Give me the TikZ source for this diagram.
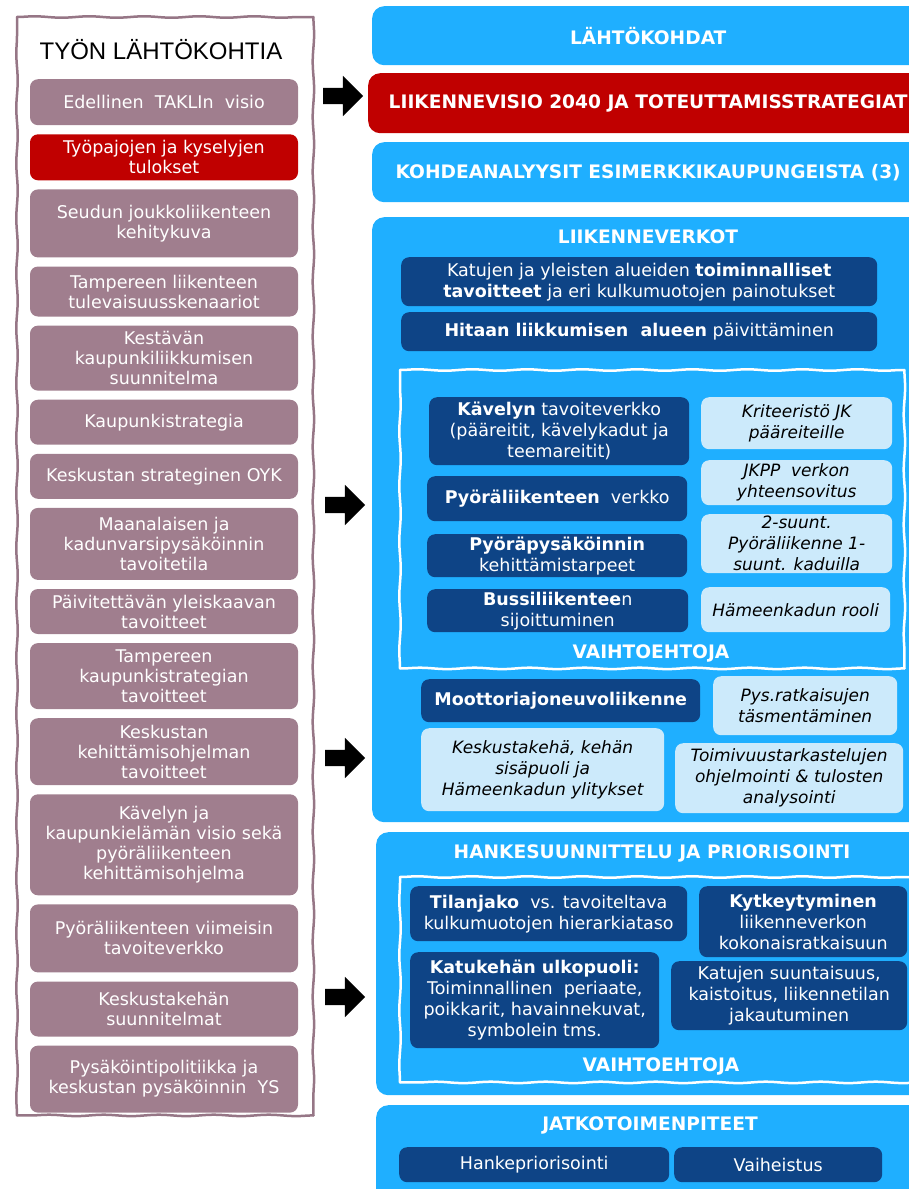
\documentclass[tikz,border=0pt]{standalone}
\usepackage{fontspec}
\setmainfont{DejaVu Sans}
\newfontfamily\titlefont{Liberation Sans}
\usepackage{tikz}
\usetikzlibrary{arrows,shapes,positioning,decorations.pathmorphing}
\usepackage{xcolor}
\definecolor{vlmauve}{RGB}{160,126,142}
\definecolor{vlframe}{RGB}{150,118,134}
\definecolor{vlred}{RGB}{192,0,0}
\definecolor{vlblue}{RGB}{31,175,255}
\definecolor{vlnavy}{RGB}{14,68,134}
\definecolor{vlpale}{RGB}{204,234,251}
\tikzstyle{source} = [rectangle, rounded corners=8pt, fill=vlmauve, text=white, minimum width=268pt, inner sep=0pt, align=center, font=\fontsize{17.5}{20}\selectfont]
\tikzstyle{phase} = [rectangle, rounded corners=12pt, fill=vlblue, text=white, anchor=north west, minimum width=552pt, font=\fontsize{18.6}{21}\selectfont\bfseries]
\tikzstyle{task} = [rectangle, rounded corners=8pt, fill=vlnavy, text=white, anchor=north west, inner sep=0pt, align=center, font=\fontsize{17.5}{21}\selectfont]
\tikzstyle{note} = [rectangle, rounded corners=8pt, fill=vlpale, text=black, anchor=north west, inner sep=0pt, align=center, font=\fontsize{17}{21}\selectfont\itshape]
\tikzstyle{heading} = [text=white, font=\fontsize{18.6}{21}\selectfont\bfseries]
\tikzstyle{wavy} = [rectangle, anchor=north west, inner sep=0pt]
\tikzstyle{wavyline} = [line width=2.5pt, line cap=round, decorate, decoration={snake, amplitude=0.7pt, segment length=55pt}]
\tikzstyle{blockarrow} = [single arrow, fill=black, minimum height=40pt, inner xsep=0pt, inner ysep=8pt, single arrow head extend=12pt]

\begin{document}
\begin{tikzpicture}[x=1pt, y=-1pt]
\path[use as bounding box, clip] (0,0) rectangle (909,1189);

% Left column: starting points
\node (frame) [wavy, minimum width=296pt, minimum height=1098pt] at (17,17) {};
\node (title) at (161,50) {\titlefont\fontsize{24}{27}\selectfont TYÖN LÄHTÖKOHTIA};

\node (s1) [source, minimum height=46pt, anchor=north] at (164,79) {Edellinen \ TAKLIn \ visio};
\node (s2) [source, minimum height=46pt, below=8.7pt of s1, fill=vlred] {Työpajojen ja kyselyjen\\tulokset};
\node (s3) [source, minimum height=68pt, below=8.7pt of s2] {Seudun joukkoliikenteen\\kehitykuva};
\node (s4) [source, minimum height=50pt, below=8.7pt of s3] {Tampereen liikenteen\\tulevaisuusskenaariot};
\node (s5) [source, minimum height=65pt, below=8.7pt of s4] {Kestävän\\kaupunkiliikkumisen\\suunnitelma};
\node (s6) [source, minimum height=45pt, below=8.7pt of s5] {Kaupunkistrategia};
\node (s7) [source, minimum height=45pt, below=8.7pt of s6] {Keskustan strateginen OYK};
\node (s8) [source, minimum height=72pt, below=8.7pt of s7] {Maanalaisen ja\\kadunvarsipysäköinnin\\tavoitetila};
\node (s9) [source, minimum height=45pt, below=8.7pt of s8] {Päivitettävän yleiskaavan\\tavoitteet};
\node (s10) [source, minimum height=66pt, below=8.7pt of s9] {Tampereen\\kaupunkistrategian\\tavoitteet};
\node (s11) [source, minimum height=67pt, below=8.7pt of s10] {Keskustan\\kehittämisohjelman\\tavoitteet};
\node (s12) [source, minimum height=101pt, below=8.7pt of s11] {Kävelyn ja\\kaupunkielämän visio sekä\\pyöräliikenteen\\kehittämisohjelma};
\node (s13) [source, minimum height=68pt, below=8.7pt of s12] {Pyöräliikenteen viimeisin\\tavoiteverkko};
\node (s14) [source, minimum height=55pt, below=8.7pt of s13] {Keskustakehän\\suunnitelmat};
\node (s15) [source, minimum height=67pt, below=8.7pt of s14] {Pysäköintipolitiikka ja\\keskustan pysäköinnin \ YS};

% Arrows
\node (a1) [blockarrow] at (339,96) {};
\node (a2) [blockarrow] at (341,505) {};
\node (a3) [blockarrow] at (341,758) {};
\node (a4) [blockarrow] at (341,997) {};

% Right column: phases
\node (p1) [phase, minimum height=59pt] at (372,6) {LÄHTÖKOHDAT};
\node (p2) [phase, minimum height=60pt, minimum width=560pt, fill=vlred] at (368,73) {LIIKENNEVISIO 2040 JA TOTEUTTAMISSTRATEGIAT};
\node (p3) [phase, minimum height=60pt] at (372,142) {KOHDEANALYYSIT ESIMERKKIKAUPUNGEISTA (3)};
\node (p4) [phase, minimum height=605pt] at (372,217) {};
\node (p5) [phase, minimum height=263pt] at (376,832) {};
\node (p6) [phase, minimum height=120pt] at (376,1105) {};

% Liikenneverkot
\node (h4) [heading] at (648,237) {LIIKENNEVERKOT};
\node (n1) [task, minimum width=476pt, minimum height=49pt] at (401,257) {Katujen ja yleisten alueiden \textbf{toiminnalliset}\\\textbf{tavoitteet} ja eri kulkumuotojen painotukset};
\node (n2) [task, minimum width=476pt, minimum height=39pt] at (401,312) {\textbf{Hitaan liikkumisen \ alueen} päivittäminen};
\node (opt1) [wavy, minimum width=504pt, minimum height=298pt] at (400,370) {};
\node (n3) [task, minimum width=260pt, minimum height=68pt] at (429,397) {\textbf{Kävelyn} tavoiteverkko\\(pääreitit, kävelykadut ja\\teemareitit)};
\node (n4) [task, minimum width=260pt, minimum height=45pt] at (427,476) {\textbf{Pyöräliikenteen} \ verkko};
\node (n5) [task, minimum width=260pt, minimum height=43pt] at (427,534) {\textbf{Pyöräpysäköinnin}\\kehittämistarpeet};
\node (n6) [task, minimum width=261pt, minimum height=43pt] at (427,589) {\textbf{Bussiliikentee}n\\sijoittuminen};
\node (m1) [note, minimum width=191pt, minimum height=52pt] at (701,397) {Kriteeristö JK\\pääreiteille};
\node (m2) [note, minimum width=191pt, minimum height=45pt] at (701,460) {JKPP \ verkon\\yhteensovitus};
\node (m3) [note, minimum width=191pt, minimum height=59pt] at (701,514) {2-suunt.\\Pyöräliikenne 1-\\suunt. kaduilla};
\node (m4) [note, minimum width=189pt, minimum height=45pt] at (701,587) {Hämeenkadun rooli};
\node (v1) [heading] at (651,653) {VAIHTOEHTOJA};
\node (n7) [task, minimum width=279pt, minimum height=43pt] at (421,679) {\textbf{Moottoriajoneuvoliikenne}};
\node (m5) [note, minimum width=184pt, minimum height=59pt] at (713,676) {Pys.ratkaisujen\\täsmentäminen};
\node (m6) [note, minimum width=243pt, minimum height=83pt] at (421,728) {Keskustakehä, kehän\\sisäpuoli ja\\Hämeenkadun ylitykset};
\node (m7) [note, minimum width=228pt, minimum height=70pt] at (675,743) {Toimivuustarkastelujen\\ohjelmointi \& tulosten\\analysointi};

% Hankesuunnittelu
\node (h5) [heading] at (652,853) {HANKESUUNNITTELU JA PRIORISOINTI};
\node (opt2) [wavy, minimum width=520pt, minimum height=205pt] at (400,877) {};
\node (k1) [task, minimum width=277pt, minimum height=55pt] at (410,886) {\textbf{Tilanjako} \ vs. tavoiteltava\\kulkumuotojen hierarkiataso};
\node (k2) [task, minimum width=208pt, minimum height=71pt] at (699,886) {\textbf{Kytkeytyminen}\\liikenneverkon\\kokonaisratkaisuun};
\node (k3) [task, minimum width=249pt, minimum height=96pt] at (410,952) {\textbf{Katukehän ulkopuoli:}\\Toiminnallinen \ periaate,\\poikkarit, havainnekuvat,\\symbolein tms.};
\node (k4) [task, minimum width=236pt, minimum height=69pt] at (671,961) {Katujen suuntaisuus,\\kaistoitus, liikennetilan\\jakautuminen};
\node (v2) [heading] at (661,1066) {VAIHTOEHTOJA};

% Jatkotoimenpiteet
\node (h6) [heading] at (650,1125) {JATKOTOIMENPITEET};
\node (j1) [task, minimum width=270pt, minimum height=35pt] at (399,1147) {Hankepriorisointi};
\node (j2) [task, minimum width=208pt, minimum height=35pt] at (674,1147) {Vaiheistus};

% Hand-drawn frames
\foreach \f/\c in {frame/vlframe, opt1/white, opt2/white} {
  \draw[wavyline, draw=\c] (\f.north west) -- (\f.north east);
  \draw[wavyline, draw=\c] (\f.north east) -- (\f.south east);
  \draw[wavyline, draw=\c] (\f.south east) -- (\f.south west);
  \draw[wavyline, draw=\c] (\f.south west) -- (\f.north west);
}
\end{tikzpicture}
\end{document}
